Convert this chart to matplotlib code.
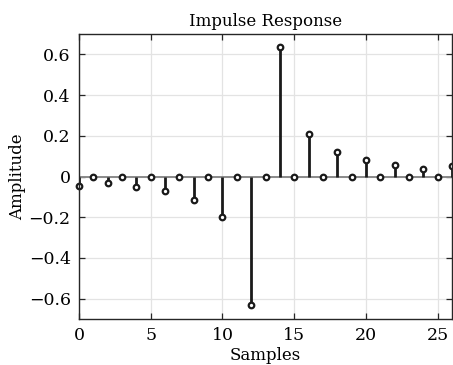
import matplotlib
matplotlib.use("Agg")
import matplotlib.pyplot as plt
import numpy as np

# impulse response samples
samples = np.arange(27)
amplitude = [-0.045, 0, -0.031, 0, -0.05, 0, -0.073, 0, -0.114, 0, -0.201, 0, -0.633, 0,
             0.635, 0, 0.21, 0, 0.12, 0, 0.08, 0, 0.055, 0, 0.039, 0, 0.05]
xticks = [0, 5, 10, 15, 20, 25]
yticks = [-0.6, -0.4, -0.2, 0, 0.2, 0.4, 0.6]
ytick_labels = ["\u22120.6", "\u22120.4", "\u22120.2", "0", "0.2", "0.4", "0.6"]

plt.rcParams['font.family'] = ['DejaVu Serif']

fig = plt.figure(figsize=(4.53, 3.65), dpi=100)
ax = fig.add_axes([79 / 453, 46 / 365, 373 / 453, 285 / 365])

ax.grid(True, color='#e3e3e3', linewidth=0.9)
ax.set_axisbelow(True)

ax.axhline(0, color='#8a8a8a', linewidth=1.4, zorder=1)
markerline, stemlines, baseline = ax.stem(samples, amplitude, basefmt=' ')
plt.setp(stemlines, color='#1a1a1a', linewidth=2.0)
plt.setp(markerline, marker='o', markersize=4, markerfacecolor='white',
         markeredgecolor='#1a1a1a', markeredgewidth=1.6, clip_on=False)

ax.set_xlim(0, 26)
ax.set_ylim(-0.7, 0.7)
ax.set_xticks(xticks)
ax.set_yticks(yticks)
ax.set_yticklabels(ytick_labels)
ax.tick_params(direction='in', length=4, width=0.9, top=True, right=True,
               labelsize=12.5, colors='#262626', pad=6)
ax.tick_params(axis='both', labelcolor='black')
for s in ax.spines.values():
    s.set_color('#262626')
    s.set_linewidth(1.0)

ax.set_title('Impulse Response', fontsize=12, pad=6)
ax.set_xlabel('Samples', fontsize=12, labelpad=2)
ax.set_ylabel('Amplitude', fontsize=12, labelpad=2)

fig.savefig('out.png', dpi=100)
